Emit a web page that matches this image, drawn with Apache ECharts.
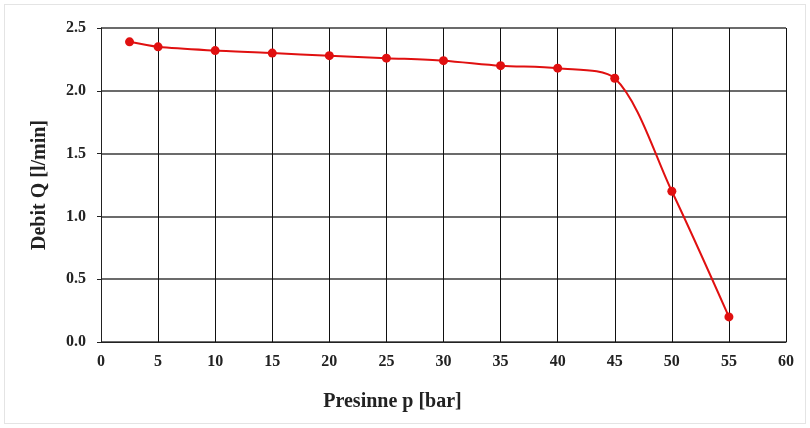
<!DOCTYPE html>
<html><head><meta charset="utf-8">
<script src="https://cdn.jsdelivr.net/npm/echarts@6/dist/echarts.min.js"></script>
<style>html,body{margin:0;padding:0;background:#fff}#c{width:810px;height:428px}
#frame{position:absolute;left:4px;top:4px;width:800px;height:418px;border:1px solid #e4e4e4;pointer-events:none}</style>
</head><body><div id="c"></div><div id="frame"></div>
<script>
const pressure = [2.5, 5, 10, 15, 20, 25, 30, 35, 40, 45, 50, 55];
const flow = [2.39, 2.35, 2.32, 2.30, 2.28, 2.26, 2.24, 2.20, 2.18, 2.10, 1.20, 0.20];
const xName = 'Presinne p [bar]';
const yName = 'Debit Q [l/min]';
const font = '"Liberation Serif","Times New Roman",serif';
const chart = echarts.init(document.getElementById('c'));
chart.setOption({
  animation: false,
  grid: {left: 101, right: 24, top: 28, bottom: 86},
  xAxis: {
    type: 'value', min: 0, max: 60, interval: 5,
    name: xName, nameLocation: 'middle', nameGap: 50,
    nameTextStyle: {fontFamily: font, fontWeight: 'bold', fontSize: 20, color: '#222',
      padding: [0, 102, 0, 0]},
    axisLine: {show: true, lineStyle: {color: '#222', width: 1}},
    axisTick: {show: false},
    axisLabel: {fontFamily: font, fontWeight: 'bold', fontSize: 16, color: '#222', margin: 12},
    splitLine: {show: true, lineStyle: {color: '#111', width: 1}}
  },
  yAxis: {
    type: 'value', min: 0, max: 2.5, interval: 0.5,
    name: yName, nameLocation: 'middle', nameGap: 51,
    nameTextStyle: {fontFamily: font, fontWeight: 'bold', fontSize: 20, color: '#222'},
    axisLine: {show: true, lineStyle: {color: '#222', width: 1}},
    axisTick: {show: true, length: 4, lineStyle: {color: '#222'}},
    axisLabel: {fontFamily: font, fontWeight: 'bold', fontSize: 16, color: '#222', margin: 15,
      formatter: v => v.toFixed(1)},
    splitLine: {show: true, lineStyle: {color: '#3a3a3a', width: 1.6}}
  },
  series: [{
    type: 'line', smooth: 0.3,
    data: pressure.map((p, i) => [p, flow[i]]),
    symbol: 'circle', symbolSize: 9,
    lineStyle: {color: '#e01010', width: 2},
    itemStyle: {color: '#e01010'}
  }]
});
</script></body></html>
